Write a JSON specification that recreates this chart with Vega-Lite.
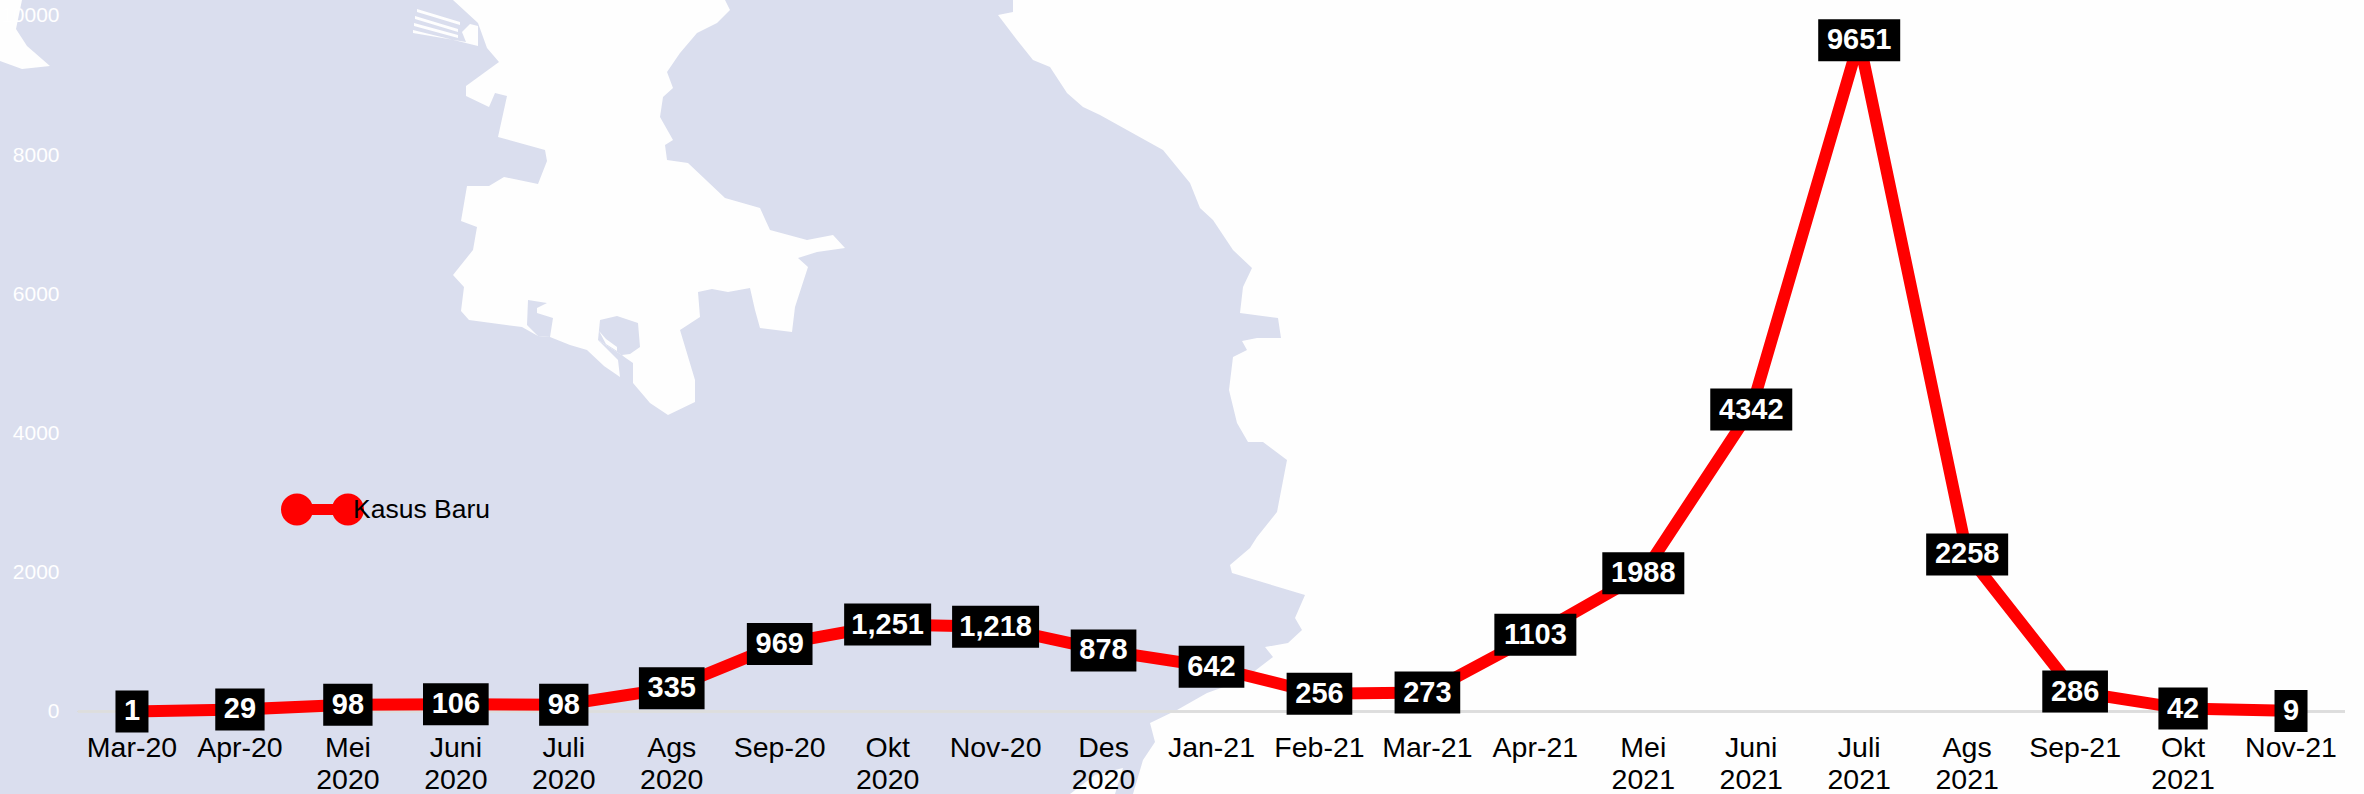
{"$schema":"https://vega.github.io/schema/vega-lite/v6.json","width":2364,"height":794,"autosize":{"type":"none"},"padding":0,"background":"#dadeee","config":{"view":{"stroke":null},"font":"Liberation Sans"},"layer":[{"data":{"values":[{"type":"Feature","properties":{"name":"land-nw"},"geometry":{"type":"Polygon","coordinates":[[[0,0],[22,0],[16,29],[27,46],[50,66],[22,69],[0,61],[0,0]]]}},{"type":"Feature","properties":{"name":"land-centre"},"geometry":{"type":"Polygon","coordinates":[[[453,0],[478,23],[487,48],[499,62],[466,86],[466,96],[489,107],[495,93],[507,96],[498,137],[545,150],[547,161],[538,184],[504,177],[489,186],[467,186],[461,221],[477,227],[473,250],[453,275],[464,287],[461,311],[469,320],[522,327],[538,336],[550,337],[570,345],[587,350],[604,366],[620,377],[618,360],[598,340],[620,354],[633,363],[633,383],[650,403],[668,415],[695,402],[695,380],[680,330],[700,317],[698,292],[712,289],[728,292],[750,288],[755,310],[760,328],[792,332],[795,307],[808,267],[798,258],[817,252],[845,248],[833,235],[807,240],[770,230],[760,208],[725,198],[688,163],[667,160],[665,145],[673,140],[660,117],[663,97],[673,88],[667,72],[680,53],[697,33],[717,23],[730,10],[725,0],[453,0]]]}},{"type":"Feature","properties":{"name":"land-east"},"geometry":{"type":"Polygon","coordinates":[[[1013,0],[1013,12],[998,15],[1017,40],[1033,60],[1050,67],[1067,93],[1083,107],[1100,115],[1163,150],[1190,183],[1200,208],[1213,220],[1233,250],[1252,268],[1243,287],[1240,313],[1278,318],[1281,338],[1257,338],[1242,341],[1247,350],[1233,357],[1229,390],[1237,423],[1248,442],[1263,442],[1287,460],[1277,512],[1257,537],[1250,548],[1230,565],[1232,573],[1305,595],[1295,618],[1302,630],[1288,643],[1265,647],[1273,657],[1243,680],[1207,693],[1177,710],[1150,723],[1155,742],[1143,760],[1133,794],[2364,794],[2364,0],[1013,0]]]}},{"type":"Feature","properties":{"name":"land-south"},"geometry":{"type":"Polygon","coordinates":[[[1070,794],[1095,775],[1123,768],[1115,794],[1070,794]]]}},{"type":"Feature","properties":{"name":"stripe-1"},"geometry":{"type":"Polygon","coordinates":[[[417,9],[460,22],[460,25],[417,12],[417,9]]]}},{"type":"Feature","properties":{"name":"stripe-2"},"geometry":{"type":"Polygon","coordinates":[[[415,16],[458,29],[458,32],[415,19],[415,16]]]}},{"type":"Feature","properties":{"name":"stripe-3"},"geometry":{"type":"Polygon","coordinates":[[[414,23],[458,35],[458,38],[414,26],[414,23]]]}},{"type":"Feature","properties":{"name":"stripe-4"},"geometry":{"type":"Polygon","coordinates":[[[413,30],[478,46],[478,26],[470,24],[462,32],[466,42],[413,33],[413,30]]]}}]},"mark":{"type":"geoshape","fill":"#fefefe","stroke":null},"projection":{"type":"identity","scale":1,"translate":[0,0]}},{"data":{"values":[{"type":"Feature","properties":{"name":"lake-1"},"geometry":{"type":"Polygon","coordinates":[[[528,300],[547,303],[537,308],[537,313],[553,318],[550,337],[538,336],[527,325],[528,300]]]}},{"type":"Feature","properties":{"name":"lake-2"},"geometry":{"type":"Polygon","coordinates":[[[600,320],[617,316],[638,323],[640,347],[630,354],[622,355],[628,362],[620,354],[598,340],[600,320]]]}}]},"mark":{"type":"geoshape","fill":"#dadeee","stroke":null},"projection":{"type":"identity","scale":1,"translate":[0,0]}},{"data":{"values":[{"type":"Feature","properties":{"name":"crescent"},"geometry":{"type":"Polygon","coordinates":[[[599,331],[606,339],[617,347],[617,351],[606,344],[599,331]]]}}]},"mark":{"type":"geoshape","fill":"#fefefe","stroke":null},"projection":{"type":"identity","scale":1,"translate":[0,0]}},{"data":{"values":[{"month":"Mar-20","value":1,"label":"1","series":"Kasus Baru"},{"month":"Apr-20","value":29,"label":"29","series":"Kasus Baru"},{"month":"Mei 2020","value":98,"label":"98","series":"Kasus Baru"},{"month":"Juni 2020","value":106,"label":"106","series":"Kasus Baru"},{"month":"Juli 2020","value":98,"label":"98","series":"Kasus Baru"},{"month":"Ags 2020","value":335,"label":"335","series":"Kasus Baru"},{"month":"Sep-20","value":969,"label":"969","series":"Kasus Baru"},{"month":"Okt 2020","value":1251,"label":"1,251","series":"Kasus Baru"},{"month":"Nov-20","value":1218,"label":"1,218","series":"Kasus Baru"},{"month":"Des 2020","value":878,"label":"878","series":"Kasus Baru"},{"month":"Jan-21","value":642,"label":"642","series":"Kasus Baru"},{"month":"Feb-21","value":256,"label":"256","series":"Kasus Baru"},{"month":"Mar-21","value":273,"label":"273","series":"Kasus Baru"},{"month":"Apr-21","value":1103,"label":"1103","series":"Kasus Baru"},{"month":"Mei 2021","value":1988,"label":"1988","series":"Kasus Baru"},{"month":"Juni 2021","value":4342,"label":"4342","series":"Kasus Baru"},{"month":"Juli 2021","value":9651,"label":"9651","series":"Kasus Baru"},{"month":"Ags 2021","value":2258,"label":"2258","series":"Kasus Baru"},{"month":"Sep-21","value":286,"label":"286","series":"Kasus Baru"},{"month":"Okt 2021","value":42,"label":"42","series":"Kasus Baru"},{"month":"Nov-21","value":9,"label":"9","series":"Kasus Baru"}]},"transform":[{"calculate":"length(datum.label)","as":"chars"}],"encoding":{"x":{"field":"month","type":"ordinal","sort":null,"title":null,"scale":{"type":"band","paddingInner":0,"paddingOuter":0,"range":[78,2345],"domain":["Mar-20","Apr-20","Mei 2020","Juni 2020","Juli 2020","Ags 2020","Sep-20","Okt 2020","Nov-20","Des 2020","Jan-21","Feb-21","Mar-21","Apr-21","Mei 2021","Juni 2021","Juli 2021","Ags 2021","Sep-21","Okt 2021","Nov-21"]},"axis":{"orient":"bottom","offset":-82.5,"zindex":1,"labelAngle":0,"labelFontSize":28.5,"labelColor":"#000","labelFont":"Liberation Sans","labelPadding":21.5,"labelLineHeight":32.5,"labelOverlap":false,"labelBaseline":"top","ticks":false,"grid":false,"domain":false,"labelExpr":"split(datum.label,' ')"}},"y":{"field":"value","type":"quantitative","title":null,"scale":{"domain":[-1186,10230],"nice":false,"zero":false},"axis":{"orient":"left","offset":-59,"zindex":1,"values":[0,2000,4000,6000,8000,10000],"format":"d","labelFontSize":21,"labelColor":"#ffffff","labelFont":"Liberation Sans","labelPadding":0,"ticks":false,"domain":false,"grid":false}}},"layer":[{"mark":{"type":"rule","color":"#dddddd","strokeWidth":2,"xOffset":-54,"x2Offset":54},"encoding":{"x":{"datum":"Mar-20"},"x2":{"datum":"Nov-21"},"y":{"datum":0}}},{"mark":{"type":"line","color":"#ff0000","strokeWidth":12,"strokeJoin":"miter"}},{"mark":{"type":"point","filled":true,"opacity":1},"encoding":{"color":{"field":"series","type":"nominal","scale":{"domain":["Kasus Baru"],"range":["#ff0000"]},"legend":{"title":null,"orient":"none","legendX":281,"legendY":468,"padding":0,"symbolType":"M-1,0A.386,.386 0 1,1 -.228,0A.386,.386 0 1,1 -1,0ZM.228,0A.386,.386 0 1,1 1,0A.386,.386 0 1,1 .228,0ZM-.3,-.134H.3V.134H-.3Z","symbolSize":6889,"symbolStrokeWidth":0,"symbolOpacity":1,"labelFontSize":26.5,"labelColor":"#000","labelFont":"Liberation Sans","labelOffset":-11}},"size":{"value":1024}}},{"mark":{"type":"tick","orient":"horizontal","thickness":42,"color":"#000","opacity":1},"encoding":{"size":{"field":"chars","type":"quantitative","legend":null,"scale":{"type":"linear","zero":false,"domain":[1,4,5],"range":[33,82,87]}}}},{"mark":{"type":"text","font":"Liberation Sans","fontWeight":"bold","fontSize":29,"color":"#ffffff","baseline":"middle","align":"center"},"encoding":{"text":{"field":"label","type":"nominal"}}}]}]}
